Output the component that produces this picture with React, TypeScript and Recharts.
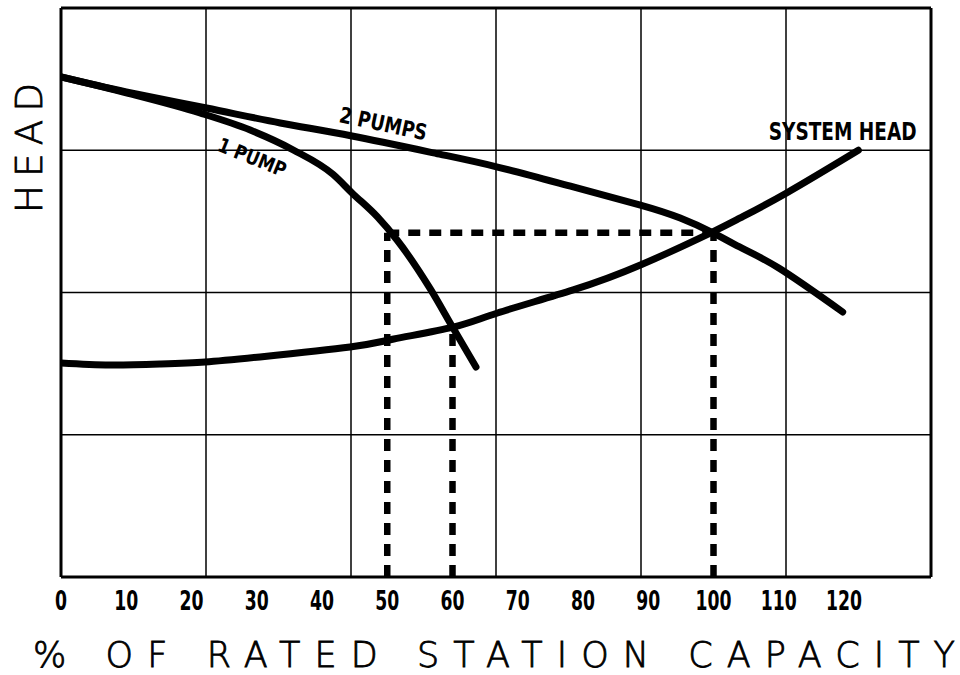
import React from "react";
import { LineChart, Line, XAxis, YAxis, ReferenceLine, ReferenceDot } from "recharts";

// % of rated station capacity vs head (relative units, 4 grid rows)
const capacityOnePump = [0, 10.3, 21.3, 29, 35.6, 41.7, 44.6, 48.5, 51.5, 56.6, 60, 63.6];
const headOnePump = [3.515, 3.4, 3.262, 3.142, 3.002, 2.83, 2.7, 2.531, 2.369, 2.025, 1.757, 1.476];

const capacityTwoPumps = [0, 10, 22.3, 33.6, 44.6, 58, 66.9, 78.5, 88.8, 94.9, 100, 104, 110, 119.8];
const headTwoPumps = [3.515, 3.41, 3.297, 3.192, 3.1, 2.973, 2.882, 2.742, 2.615, 2.524, 2.418, 2.32, 2.172, 1.863];

const capacitySystem = [0, 7.5, 15.2, 22.1, 30.5, 44.3, 51, 60.1, 66.9, 78.5, 88.8, 99.5, 104.1, 111.2, 122.2];
const headSystem = [1.504, 1.49, 1.497, 1.511, 1.547, 1.617, 1.673, 1.757, 1.856, 2.018, 2.193, 2.418, 2.524, 2.7, 3.0];

const xTicks = [0, 10, 20, 30, 40, 50, 60, 70, 80, 90, 100, 110, 120];
const xMax = 400 / 3;
const gridX = [1, 2, 3, 4, 5].map((i) => (xMax / 6) * i);
const gridY = [1, 2, 3];
const yMax = 4;

// operating points
const opOnePump = { x: 60, y: 1.757 };
const opTwoPumps = { x: 100, y: 2.42 };
const halfPoint = 50;

const toPoints = (xs: number[], ys: number[]) => xs.map((x, i) => ({ x, y: ys[i] }));

const onePump = toPoints(capacityOnePump, headOnePump);
const twoPumps = toPoints(capacityTwoPumps, headTwoPumps);
const systemHead = toPoints(capacitySystem, headSystem);

const labelFont = "'DejaVu Sans', sans-serif";

function Tick(props: any) {
  const { x, y, payload } = props;
  const s = String(payload.value);
  return (
    <text
      x={x}
      y={y + 33}
      textAnchor="middle"
      fontFamily={labelFont}
      fontWeight="bold"
      fontSize={27}
      textLength={s.length * 12}
      lengthAdjust="spacingAndGlyphs"
      fill="#000"
    >
      {s}
    </text>
  );
}

function curveLabel(text: string, angle: number, len: number, size: number) {
  return (props: any) => {
    const { cx, cy } = props;
    return (
      <text
        x={cx}
        y={cy}
        transform={`rotate(${angle} ${cx} ${cy})`}
        textAnchor="middle"
        dominantBaseline="central"
        fontFamily={labelFont}
        fontWeight="bold"
        fontSize={size}
        textLength={len}
        lengthAdjust="spacingAndGlyphs"
        fill="#000"
      >
        {text}
      </text>
    );
  };
}

const dash = "12 9";
const curveWidth = 7;

export default function App() {
  return (
    <div style={{ position: "absolute", left: 0, top: 0, width: 960, height: 675, background: "#fff" }}>
      <LineChart width={960} height={675} margin={{ top: 8, right: 29, left: 0, bottom: 0 }}>
        <XAxis
          type="number"
          dataKey="x"
          domain={[0, xMax]}
          ticks={xTicks}
          allowDataOverflow
          tickLine={false}
          axisLine={false}
          tickSize={0}
          tickMargin={0}
          height={98}
          tick={<Tick />}
          label={{
            content: (p: any) => {
              const vb = p.viewBox;
              return (
                <text
                  x={33}
                  y={vb.y + 90}
                  fontFamily={labelFont}
                  fontWeight={200}
                  fontSize={35}
                  textLength={922}
                  lengthAdjust="spacing"
                  fill="#000"
                  stroke="#000"
                  strokeWidth={0.8}
                >
                  % OF RATED STATION CAPACITY
                </text>
              );
            },
          }}
        />
        <YAxis
          type="number"
          dataKey="y"
          domain={[0, yMax]}
          width={61}
          tick={false}
          tickLine={false}
          axisLine={false}
          label={{
            content: () => (
              <text
                x={0}
                y={0}
                transform="translate(42 148) rotate(-90)"
                textAnchor="middle"
                fontFamily={labelFont}
                fontWeight={200}
                fontSize={37}
                textLength={130}
                lengthAdjust="spacing"
                fill="#000"
                stroke="#000"
                strokeWidth={0.8}
              >
                HEAD
              </text>
            ),
          }}
        />

        {gridX.map((v) => (
          <ReferenceLine key={`gx${v}`} x={v} stroke="#000" strokeWidth={1.5} />
        ))}
        {gridY.map((v) => (
          <ReferenceLine key={`gy${v}`} y={v} stroke="#000" strokeWidth={1.5} />
        ))}
        <ReferenceLine x={0} stroke="#000" strokeWidth={3} />
        <ReferenceLine x={xMax} stroke="#000" strokeWidth={3} />
        <ReferenceLine y={0} stroke="#000" strokeWidth={3} />
        <ReferenceLine y={yMax} stroke="#000" strokeWidth={3} />

        <ReferenceLine
          segment={[{ x: halfPoint, y: opTwoPumps.y }, { x: opTwoPumps.x, y: opTwoPumps.y }]}
          stroke="#000"
          strokeWidth={6.5}
          strokeDasharray={dash}
        />
        <ReferenceLine
          segment={[{ x: halfPoint, y: 0 }, { x: halfPoint, y: opTwoPumps.y }]}
          stroke="#000"
          strokeWidth={6.5}
          strokeDasharray={dash}
        />
        <ReferenceLine
          segment={[{ x: opOnePump.x, y: 0 }, { x: opOnePump.x, y: opOnePump.y }]}
          stroke="#000"
          strokeWidth={6.5}
          strokeDasharray={dash}
        />
        <ReferenceLine
          segment={[{ x: opTwoPumps.x, y: 0 }, { x: opTwoPumps.x, y: opTwoPumps.y }]}
          stroke="#000"
          strokeWidth={6.5}
          strokeDasharray={dash}
        />

        <Line data={systemHead} dataKey="y" type="natural" stroke="#000" strokeWidth={curveWidth} dot={false} isAnimationActive={false} strokeLinecap="round" />
        <Line data={twoPumps} dataKey="y" type="natural" stroke="#000" strokeWidth={curveWidth} dot={false} isAnimationActive={false} strokeLinecap="round" />
        <Line data={onePump} dataKey="y" type="monotone" stroke="#000" strokeWidth={curveWidth} dot={false} isAnimationActive={false} strokeLinecap="round" />

        <ReferenceDot x={49.4} y={3.185} r={0} shape={curveLabel("2 PUMPS", 12, 89, 22)} />
        <ReferenceDot x={29.3} y={2.95} r={0} shape={curveLabel("1 PUMP", 22, 72, 20)} />
        <ReferenceDot x={119.8} y={3.13} r={0} shape={curveLabel("SYSTEM HEAD", 0, 148, 24)} />
      </LineChart>
    </div>
  );
}
